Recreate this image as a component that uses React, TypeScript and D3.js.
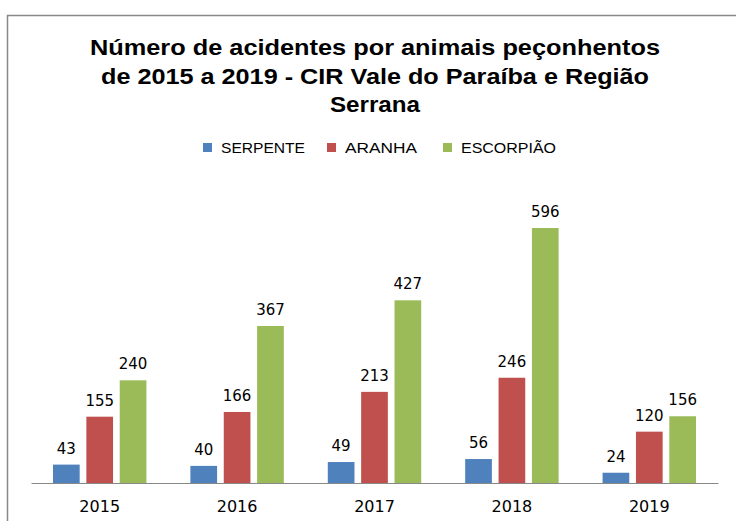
import React, { useEffect, useRef } from 'react';
import * as d3 from 'd3';

const years = ['2015', '2016', '2017', '2018', '2019'];
const seriesNames = ['SERPENTE', 'ARANHA', 'ESCORPIÃO'];
const serpente = [43, 40, 49, 56, 24];
const aranha = [155, 166, 213, 246, 120];
const escorpiao = [240, 367, 427, 596, 156];
const colors = ['#4F81BD', '#C0504D', '#9BBB59'];
const titleLines = [
    'Número de acidentes por animais peçonhentos',
    'de 2015 a 2019 - CIR Vale do Paraíba  e Região',
    'Serrana',
];

const App = () => {
    const svgRef = useRef<SVGSVGElement>(null);

    useEffect(() => {
        const svg = d3.select(svgRef.current);
        svg.selectAll('*').remove();

        const font = '"Liberation Sans", Arial, sans-serif';
        const labelFont = '"DejaVu Sans", Verdana, sans-serif';
        const values = [serpente, aranha, escorpiao];

        // outer frame (cut off on right and bottom like the screenshot)
        svg.append('rect')
            .attr('x', 7.5).attr('y', 15.5)
            .attr('width', 760).attr('height', 540)
            .attr('fill', 'white')
            .attr('stroke', '#888').attr('stroke-width', 1.5);

        // title - the original is a stretched Calibri, so widths are forced
        const titleWidths = [570, 548, 90];
        svg.append('g')
            .selectAll('text')
            .data(titleLines)
            .join('text')
            .attr('x', 375)
            .attr('y', (_, i) => 55 + i * 28.5)
            .attr('text-anchor', 'middle')
            .attr('font-family', font)
            .attr('font-weight', 'bold')
            .attr('font-size', 22.5)
            .attr('textLength', (_, i) => titleWidths[i])
            .attr('lengthAdjust', 'spacingAndGlyphs')
            .attr('fill', '#000')
            .text(d => d);

        // legend
        const legendX = [203, 327, 443];
        const legendW = [84, 72, 95];
        const legend = svg.append('g');
        seriesNames.forEach((name, i) => {
            legend.append('rect')
                .attr('x', legendX[i]).attr('y', 143)
                .attr('width', 9).attr('height', 9)
                .attr('fill', colors[i]);
            legend.append('text')
                .attr('x', legendX[i] + 18).attr('y', 153)
                .attr('font-family', font)
                .attr('font-size', 15)
                .attr('textLength', legendW[i])
                .attr('lengthAdjust', 'spacingAndGlyphs')
                .attr('fill', '#000')
                .text(name);
        });

        const x0 = d3.scaleBand().domain(years).range([31, 718]);
        const x1 = d3.scaleBand()
            .domain(seriesNames)
            .range([x0.bandwidth() * 0.16, x0.bandwidth() * 0.84])
            .paddingInner(0.2);
        const y = d3.scaleLinear().domain([0, 700]).range([483, 183.5]);

        const groups = svg.append('g')
            .selectAll('g')
            .data(years)
            .join('g')
            .attr('transform', d => `translate(${x0(d)},0)`);

        seriesNames.forEach((name, s) => {
            groups.append('rect')
                .attr('x', x1(name)!)
                .attr('y', (_, i) => y(values[s][i]))
                .attr('width', x1.bandwidth())
                .attr('height', (_, i) => y(0) - y(values[s][i]))
                .attr('fill', colors[s]);
            groups.append('text')
                .attr('x', x1(name)! + x1.bandwidth() / 2)
                .attr('y', (_, i) => y(values[s][i]) - 11)
                .attr('text-anchor', 'middle')
                .attr('font-family', labelFont)
                .attr('font-size', 15)
                .attr('fill', '#000')
                .text((_, i) => values[s][i]);
        });

        // x axis
        const axis = svg.append('g')
            .attr('transform', `translate(0,${y(0)})`)
            .call(d3.axisBottom(x0).tickSize(0).tickPadding(18));
        axis.select('.domain').attr('stroke', '#888').attr('stroke-width', 1.2);
        axis.selectAll('text')
            .attr('font-family', labelFont)
            .attr('font-size', 16)
            .attr('fill', '#000');
    }, []);

    return <svg ref={svgRef} width={736} height={521} style={{ position: 'absolute', left: 0, top: 0 }}></svg>;
};

export default App;
